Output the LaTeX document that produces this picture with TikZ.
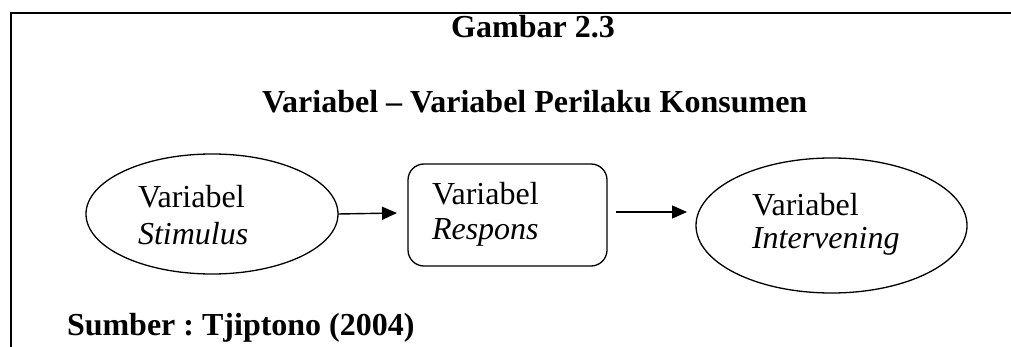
\documentclass[tikz,border=0pt]{standalone}
\usepackage{fontspec}
\setmainfont{Liberation Serif}
\usetikzlibrary{shapes.geometric,arrows.meta}
\frenchspacing
\begin{document}
\begin{tikzpicture}[x=1pt,y=-1pt,
  every node/.style={inner sep=0pt,outer sep=0pt},
  frameline/.style={line width=1.6pt},
  shapeline/.style={draw,line width=1.3pt},
  oval/.style={shapeline,ellipse},
  roundbox/.style={shapeline,rectangle,rounded corners=16pt},
  flow/.style={line width=1.4pt,-{Triangle[length=15pt,width=13pt]}},
  txt/.style={anchor=base west,font=\fontsize{32}{35}\selectfont},
  heading/.style={txt,font=\fontsize{32}{35}\selectfont\bfseries}]
\useasboundingbox (0,0) rectangle (1011,347);
\fill[white] (0,0) rectangle (1011,347);

% open frame: top rule and left rule
\coordinate (ftr) at (1011,13);
\coordinate (ftl) at (11,13);
\coordinate (fbl) at (11,347);
\draw[frameline] (ftr) -- (ftl) -- (fbl);

% headings
\node[heading,anchor=base] (fig) at (533,38) {Gambar 2.3};
\node[heading] (title) at (262,113) {Variabel – Variabel Perilaku Konsumen};

% shapes
\node[oval,minimum width=252pt,minimum height=120pt] (stim) at (212,214) {};
\node[roundbox,minimum width=199pt,minimum height=102pt] (resp) at (507.5,215) {};
\node[oval,minimum width=271pt,minimum height=135pt] (interv) at (831.5,225.5) {};

% labels inside the shapes
\node[txt] (stimA) at (138,208) {Variabel};
\node[txt] (stimB) at (138,244) {\itshape Stimulus};
\node[txt] (respA) at (432,205) {Variabel};
\node[txt] (respB) at (432,240) {\itshape Respons};
\node[txt] (intA) at (752,216) {Variabel};
\node[txt] (intB) at (752,249) {\itshape Intervening};

% connectors
\coordinate (a1e) at (397,213);
\coordinate (a2s) at (616,212);
\coordinate (a2e) at (687,212);
\draw[flow] (stim.east) -- (a1e);
\draw[flow] (a2s) -- (a2e);

% source
\node[heading] (src) at (67,335) {Sumber : Tjiptono (2004)};
\end{tikzpicture}
\end{document}
